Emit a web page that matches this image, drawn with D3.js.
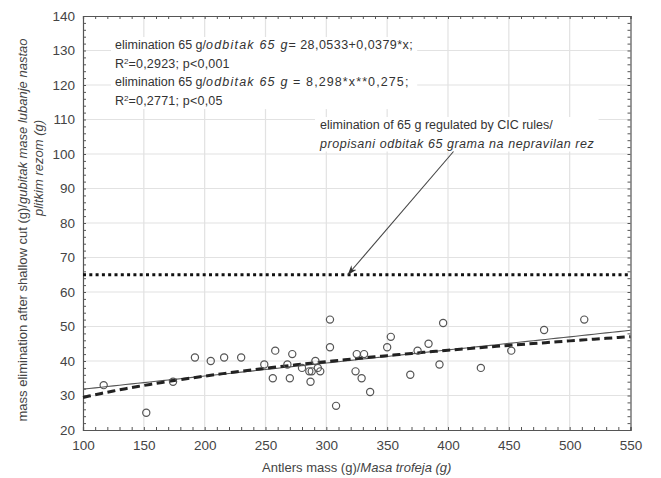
<!DOCTYPE html>
<html>
<head>
<meta charset="utf-8">
<script src="https://cdn.jsdelivr.net/npm/d3@7/dist/d3.min.js"></script>
<style>
  html, body { margin: 0; padding: 0; background: #fff; }
  svg { display: block; font-family: "Liberation Sans", Arial, sans-serif; }
</style>
</head>
<body>
<svg id="chart" width="661" height="478"></svg>
<script>
// Antler mass (g) and mass eliminated after a shallow cut (g)
const antlerMass = [117, 152, 174, 192, 205, 216, 230, 249, 256, 258, 268, 270, 272, 280,
  286, 288, 287, 291, 293, 295, 303, 303, 308, 325, 331, 324, 329, 336, 350, 353, 369,
  375, 384, 393, 396, 427, 452, 479, 512];
const massElimination = [33, 25, 34, 41, 40, 41, 41, 39, 35, 43, 39, 35, 42, 38,
  37, 37, 34, 40, 38, 37, 52, 44, 27, 42, 42, 37, 35, 31, 44, 47, 36,
  43, 45, 39, 51, 38, 43, 49, 52];

// Fitted models
const linearFit = { intercept: 28.0533, slope: 0.0379 };
const powerFit = { coef: 8.298, exponent: 0.275 };
const cicElimination = 65;

const xTicks = [100, 150, 200, 250, 300, 350, 400, 450, 500, 550];
const yTicks = [20, 30, 40, 50, 60, 70, 80, 90, 100, 110, 120, 130, 140];

const svg = d3.select("#chart");
const plot = { left: 83, right: 630.5, top: 16, bottom: 430 };

const x = d3.scaleLinear().domain([100, 550]).range([plot.left, plot.right]);
const y = d3.scaleLinear().domain([20, 140]).range([plot.bottom, plot.top]);

const frameColor = "#555";
const textColor = "#444";

// grid
const grid = svg.append("g");
grid.selectAll("line.gx").data(xTicks.slice(1, -1)).join("line")
  .attr("x1", d => x(d)).attr("x2", d => x(d)).attr("y1", plot.top).attr("y2", plot.bottom)
  .attr("stroke", "#e2e2e2").attr("stroke-width", 1.2);
grid.selectAll("line.gy").data(yTicks.slice(1, -1)).join("line")
  .attr("x1", plot.left).attr("x2", plot.right).attr("y1", d => y(d)).attr("y2", d => y(d))
  .attr("stroke", "#e2e2e2").attr("stroke-width", 1.2);

// axes with inward ticks on all four sides
const xMinor = d3.range(100, 551, 10);
const yMinor = d3.range(20, 141, 2);
const axes = svg.append("g");
function addAxis(axisGen, tx, ty) {
  const g = axes.append("g").attr("transform", `translate(${tx},${ty})`).call(axisGen);
  g.select(".domain").attr("stroke", frameColor).attr("stroke-width", 1.2);
  g.selectAll(".tick line").attr("stroke", frameColor);
  g.selectAll(".tick text").attr("fill", textColor).attr("font-size", "13.5px")
    .attr("font-family", "Liberation Sans, Arial, sans-serif");
  return g;
}
addAxis(d3.axisBottom(x).tickValues(xMinor).tickSize(-3).tickFormat(""), 0, plot.bottom);
addAxis(d3.axisTop(x).tickValues(xMinor).tickSize(-3).tickFormat(""), 0, plot.top);
addAxis(d3.axisLeft(y).tickValues(yMinor).tickSize(-3).tickFormat(""), plot.left, 0);
addAxis(d3.axisRight(y).tickValues(yMinor).tickSize(-3).tickFormat(""), plot.right, 0);
const xa = addAxis(d3.axisBottom(x).tickValues(xTicks).tickSize(0).tickPadding(10).tickFormat(d3.format("d")), 0, plot.bottom);
xa.select(".domain").remove();
const ya = addAxis(d3.axisLeft(y).tickValues(yTicks).tickSize(0).tickPadding(8).tickFormat(d3.format("d")), plot.left, 0);
ya.select(".domain").remove();

// CIC regulated elimination (65 g)
svg.append("line")
  .attr("x1", x(100)).attr("x2", x(550))
  .attr("y1", y(cicElimination)).attr("y2", y(cicElimination))
  .attr("stroke", "#111").attr("stroke-width", 3).attr("stroke-dasharray", "3,3.3");

// fitted curves
const xs = d3.range(100, 550.1, 5);
const line = d3.line().x(d => x(d[0])).y(d => y(d[1]));
svg.append("path")
  .attr("d", line(xs.map(v => [v, linearFit.intercept + linearFit.slope * v])))
  .attr("fill", "none").attr("stroke", "#555").attr("stroke-width", 1.1);
svg.append("path")
  .attr("d", line(xs.map(v => [v, powerFit.coef * Math.pow(v, powerFit.exponent)])))
  .attr("fill", "none").attr("stroke", "#222").attr("stroke-width", 3)
  .attr("stroke-dasharray", "8,4.5");

// observations
svg.append("g").selectAll("circle")
  .data(antlerMass.map((m, i) => [m, massElimination[i]]))
  .join("circle")
  .attr("cx", d => x(d[0])).attr("cy", d => y(d[1])).attr("r", 3.6)
  .attr("fill", "none").attr("stroke", "#555").attr("stroke-width", 1.2);

// text blocks with white backing
function textBlock(lines, tx, ty, lineHeight, size) {
  const g = svg.append("g");
  const t = g.append("text").attr("font-size", size).attr("fill", "#333");
  lines.forEach((parts, i) => {
    parts.forEach((p, j) => {
      const ts = t.append("tspan").text(p.t);
      if (j === 0) ts.attr("x", tx).attr("y", ty + i * lineHeight);
      if (p.i) ts.attr("font-style", "italic");
      if (p.ls) ts.attr("letter-spacing", p.ls);
      if (p.sup) ts.attr("baseline-shift", "super").attr("font-size", size * 0.65);
    });
  });
  const b = t.node().getBBox();
  g.insert("rect", "text").attr("x", b.x - 4).attr("y", b.y - 1)
    .attr("width", b.width + 8).attr("height", b.height + 2).attr("fill", "#fff");
  return g;
}

textBlock([
  [{ t: "elimination 65 g/" }, { t: "odbitak 65 g", i: true, ls: 1.2 }, { t: "= 28,0533+0,0379*x;", ls: 0.45 }],
  [{ t: "R" }, { t: "2", sup: true }, { t: "=0,2923; p<0,001", ls: 0.2 }],
  [{ t: "elimination 65 g/" }, { t: "odbitak 65 g", i: true, ls: 1.2 }, { t: " = 8,298*x**0,275;", ls: 1.1 }],
  [{ t: "R" }, { t: "2", sup: true }, { t: "=0,2771; p<0,05", ls: 0.2 }]
], 115, 49, 18.7, 12.5);

textBlock([
  [{ t: "elimination of 65 g regulated by CIC rules/" }],
  [{ t: "propisani odbitak 65 grama na nepravilan rez", i: true, ls: 0.55 }]
], 320, 129, 18.5, 12.5);

// arrow to the 65 g line
svg.append("defs").append("marker")
  .attr("id", "arrow").attr("viewBox", "0 0 10 10").attr("refX", 9).attr("refY", 5)
  .attr("markerWidth", 9).attr("markerHeight", 9).attr("orient", "auto")
  .append("path").attr("d", "M0,1.5 L10,5 L0,8.5 L3,5 Z").attr("fill", "#333");
svg.append("line")
  .attr("x1", 453.5).attr("y1", 151.5)
  .attr("x2", x(318)).attr("y2", y(cicElimination) - 0.5)
  .attr("stroke", "#444").attr("stroke-width", 1.1).attr("marker-end", "url(#arrow)");

// axis titles
const xt = svg.append("text").attr("x", (plot.left + plot.right) / 2).attr("y", 472)
  .attr("text-anchor", "middle").attr("font-size", 13).attr("fill", textColor);
xt.append("tspan").text("Antlers mass (g)/");
xt.append("tspan").attr("font-style", "italic").text("Masa trofeja (g)");

const yt1 = svg.append("text").attr("transform", "translate(27,230) rotate(-90)")
  .attr("text-anchor", "middle").attr("font-size", 13).attr("fill", textColor);
yt1.append("tspan").text("mass elimination after shallow cut (g)/");
yt1.append("tspan").attr("font-style", "italic").text("gubitak mase lubanje nastao");
svg.append("text").attr("transform", "translate(43,168) rotate(-90)")
  .attr("text-anchor", "middle").attr("font-size", 13).attr("fill", textColor)
  .attr("font-style", "italic").text("plitkim rezom (g)");
</script>
</body>
</html>
